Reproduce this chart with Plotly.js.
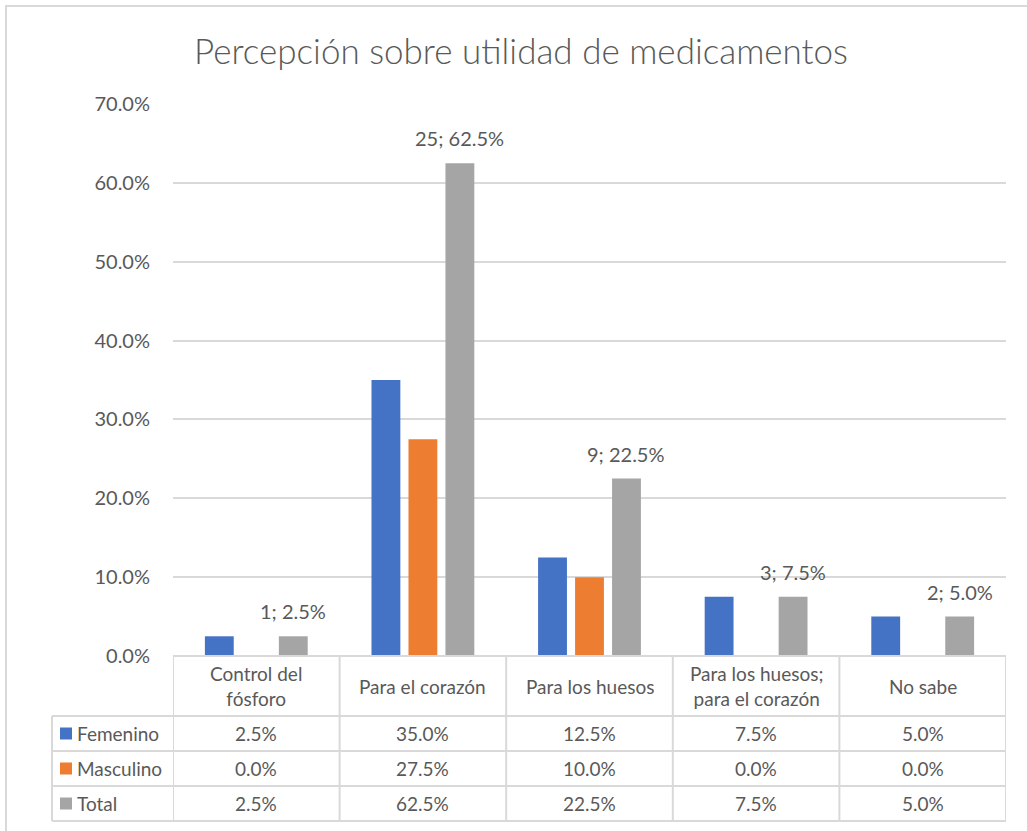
<!DOCTYPE html>
<html>
<head>
<meta charset="utf-8">
<script src="https://cdn.plot.ly/plotly-3.0.1.min.js"></script>
<style>html,body{margin:0;padding:0;background:#fff;}#chart{width:1027px;height:831px;}</style>
</head>
<body>
<div id="chart"></div>
<script>
const categories = ["Control del fósforo", "Para el corazón", "Para los huesos", "Para los huesos; para el corazón", "No sabe"];
const headerLabels = ["Control del<br>fósforo", "Para el corazón", "Para los huesos", "Para los huesos;<br>para el corazón", "No sabe"];
const seriesNames = ["Femenino", "Masculino", "Total"];
const femenino = [2.5, 35.0, 12.5, 7.5, 5.0];
const masculino = [0.0, 27.5, 10.0, 0.0, 0.0];
const total = [2.5, 62.5, 22.5, 7.5, 5.0];
const totalCounts = [1, 25, 9, 3, 2];
const yTicks = [0, 10, 20, 30, 40, 50, 60, 70];

const colors = ["#4472C4", "#ED7D31", "#A5A5A5"];
const values = [femenino, masculino, total];
const FONT = "Lato, 'Open Sans', sans-serif";
const TXT = "#595959";
const LINE = "#D9D9D9";

const W = 1027, H = 831;
const L = 173, R = 21, T = 104, B = 175;
const pw = W - L - R, ph = H - T - B;
const py = px => -(px) / ph;          // pixels below plot bottom -> paper y
const pxX = px => (px - L) / pw;      // absolute pixel x -> paper x

const traces = seriesNames.map((n, i) => ({
  type: "bar", name: n, x: categories, y: values[i],
  marker: {color: colors[i]}, hoverinfo: "none"
}));

const annotations = [];
const shapes = [];
// data labels on Total
const slot = (pw / categories.length) * (1 - 0.334) / 3;
categories.forEach((c, i) => {
  annotations.push({
    xref: "x", yref: "y", x: c, y: total[i], xshift: slot, yshift: 25,
    yanchor: "middle", showarrow: false,
    text: totalCounts[i] + "; " + total[i].toFixed(1) + "%",
    font: {family: FONT, size: 20, color: TXT}
  });
});
// table rows (pixel offsets below plot)
const rowEdges = [0, 60, 95, 130, 165];
const headCenter = (rowEdges[0] + rowEdges[1]) / 2;
categories.forEach((c, i) => {
  annotations.push({
    xref: "x", yref: "paper", x: c, y: py(headCenter), yanchor: "middle",
    showarrow: false, text: headerLabels[i],
    font: {family: FONT, size: 19, color: TXT}
  });
  values.forEach((v, s) => {
    annotations.push({
      xref: "x", yref: "paper", x: c, y: py((rowEdges[s + 1] + rowEdges[s + 2]) / 2),
      yanchor: "middle", showarrow: false, text: v[i].toFixed(1) + "%",
      font: {family: FONT, size: 19, color: TXT}
    });
  });
});
const leftX = pxX(52);
seriesNames.forEach((n, s) => {
  const cy = (rowEdges[s + 1] + rowEdges[s + 2]) / 2;
  shapes.push({type: "rect", xref: "paper", yref: "paper",
    x0: pxX(60), x1: pxX(72), y0: py(cy - 6), y1: py(cy + 6),
    fillcolor: colors[s], line: {width: 0}});
  annotations.push({
    xref: "paper", yref: "paper", x: pxX(75), y: py(cy), xanchor: "left", yanchor: "middle",
    showarrow: false, text: n, font: {family: FONT, size: 19, color: TXT}
  });
});
// horizontal table lines
shapes.push({type: "line", xref: "paper", yref: "paper", x0: 0, x1: 1, y0: 0, y1: 0, line: {color: LINE, width: 2}});
rowEdges.slice(1).forEach(e => {
  shapes.push({type: "line", xref: "paper", yref: "paper", x0: leftX, x1: 1, y0: py(e), y1: py(e), line: {color: LINE, width: 2}});
});
// vertical table lines
for (let k = 0; k <= categories.length; k++) {
  shapes.push({type: "line", xref: "x", yref: "paper", x0: k - 0.5, x1: k - 0.5, y0: 0, y1: py(rowEdges[4]), line: {color: LINE, width: 2}});
}
shapes.push({type: "line", xref: "paper", yref: "paper", x0: leftX, x1: leftX, y0: py(rowEdges[1]), y1: py(rowEdges[4]), line: {color: LINE, width: 2}});
// outer chart frame
shapes.push({type: "rect", xref: "paper", yref: "paper", x0: pxX(6), x1: pxX(1040), y0: 1 + (T - 6) / ph, y1: py(H - T - ph + 20), line: {color: LINE, width: 2}, fillcolor: "rgba(0,0,0,0)", layer: "below"});

const layout = {
  width: W, height: H,
  margin: {l: L, r: R, t: T, b: B, pad: 0},
  paper_bgcolor: "#fff", plot_bgcolor: "#fff",
  title: {text: "Percepción sobre utilidad de medicamentos", font: {family: FONT, size: 35, weight: 300, color: TXT},
    x: 521 / W, xanchor: "center", xref: "container", y: 1 - 52 / H, yref: "container", yanchor: "middle"},
  barmode: "group", bargap: 0.334, bargroupgap: 0.22,
  showlegend: false,
  xaxis: {type: "category", range: [-0.5, 4.5], showticklabels: false, ticks: "", showgrid: false, showline: false, zeroline: false, fixedrange: true},
  yaxis: {range: [0, 70], tickvals: yTicks, ticktext: yTicks.map(t => t.toFixed(1) + "%"),
    showgrid: true, gridcolor: LINE, gridwidth: 2, zeroline: false, showline: false, ticks: "",
    ticklabelstandoff: 22, tickfont: {family: FONT, size: 20, color: TXT}, fixedrange: true},
  annotations: annotations, shapes: shapes,
  font: {family: FONT, color: TXT}
};
Plotly.newPlot("chart", traces, layout, {displayModeBar: false, staticPlot: true});
</script>
</body>
</html>
